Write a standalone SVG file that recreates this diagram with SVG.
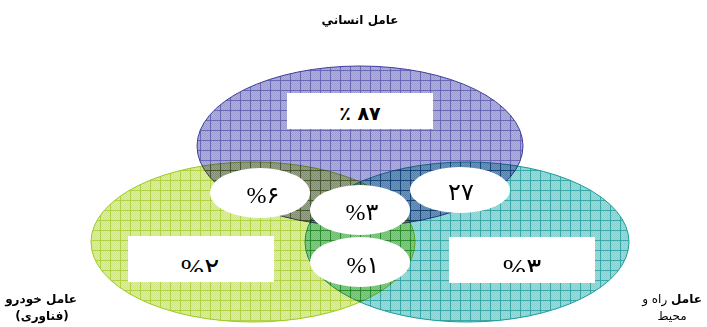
<svg xmlns="http://www.w3.org/2000/svg" width="707" height="327" viewBox="0 0 707 327">
<style>
.set{mix-blend-mode:multiply;stroke-width:1}
.box{fill:#ffffff;stroke:none}
.num{font-family:"Liberation Serif","DejaVu Sans",serif;font-size:24px;fill:#000;text-anchor:middle;direction:ltr}
.big{font-size:28px}
.lbl{font-family:"DejaVu Sans","Noto Sans",sans-serif;font-size:12px;fill:#000;text-anchor:middle;direction:rtl}
.b{font-weight:bold}
</style>
<defs>
<pattern id="ckP" width="2" height="2" patternUnits="userSpaceOnUse"><rect width="2" height="2" fill="#b0b0de"/><path d="M0 0h1v1h-1zM1 1h1v1h-1z" fill="#9d9dd0"/></pattern>
<pattern id="ckG" width="2" height="2" patternUnits="userSpaceOnUse"><rect width="2" height="2" fill="#dfee9f"/><path d="M0 0h1v1h-1zM1 1h1v1h-1z" fill="#d0e48a"/></pattern>
<pattern id="ckT" width="2" height="2" patternUnits="userSpaceOnUse"><rect width="2" height="2" fill="#9edada"/><path d="M0 0h1v1h-1zM1 1h1v1h-1z" fill="#88d0d0"/></pattern>
<pattern id="pP" width="10" height="10" patternUnits="userSpaceOnUse"><rect width="10" height="10" fill="url(#ckP)"/><path d="M0 0.5H10M0.5 0V10" stroke="#6868b6" stroke-width="1"/></pattern>
<pattern id="pG" width="10" height="10" patternUnits="userSpaceOnUse"><rect width="10" height="10" fill="url(#ckG)"/><path d="M0 0.5H10M0.5 0V10" stroke="#b2d444" stroke-width="1"/></pattern>
<pattern id="pT" width="10" height="10" patternUnits="userSpaceOnUse"><rect width="10" height="10" fill="url(#ckT)"/><path d="M0 0.5H10M0.5 0V10" stroke="#3aa8a8" stroke-width="1"/></pattern>
<clipPath id="cL"><rect x="128" y="236" width="146" height="36"/></clipPath>
<clipPath id="cR"><rect x="449" y="237" width="146" height="35"/></clipPath>
</defs>

<g id="sets">
<ellipse id="set-human" class="set" cx="360" cy="146" rx="163" ry="80" fill="url(#pP)" stroke="#3c3c9c"/>
<ellipse id="set-vehicle" class="set" cx="253" cy="242" rx="162" ry="80" fill="url(#pG)" stroke="#9cc81e"/>
<ellipse id="set-road" class="set" cx="467" cy="242" rx="162" ry="80" fill="url(#pT)" stroke="#1a9a9a"/>
</g>

<g id="connectors"></g>

<g id="node-human-only">
<rect class="box" x="287" y="93" width="146" height="36"/>
<text class="num b" x="360" y="120" style="font-family:'DejaVu Sans',sans-serif;font-size:19px;letter-spacing:2px">٪ ۸۷</text>
</g>
<g id="node-vehicle-only">
<rect class="box" x="128" y="236" width="146" height="46"/>
<text class="num big" x="200" y="278" clip-path="url(#cL)">%۲</text>
</g>
<g id="node-road-only">
<rect class="box" x="449" y="237" width="146" height="46"/>
<text class="num big" x="522" y="278" clip-path="url(#cR)">%۳</text>
</g>
<g id="node-human-vehicle">
<ellipse class="box" cx="260" cy="193" rx="50" ry="25"/>
<text class="num" x="263" y="203">%۶</text>
</g>
<g id="node-all">
<ellipse class="box" cx="360" cy="210" rx="50" ry="25"/>
<text class="num" x="362" y="220">%۳</text>
</g>
<g id="node-vehicle-road">
<ellipse class="box" cx="360" cy="262" rx="50" ry="25"/>
<text class="num" x="363" y="273">%۱</text>
</g>
<g id="node-human-road">
<ellipse class="box" cx="460" cy="190" rx="50" ry="23"/>
<text class="num" x="461" y="200">۲۷</text>
</g>

<g id="label-human">
<text class="lbl b" x="360" y="24">عامل انساني</text>
</g>
<g id="label-vehicle">
<text class="lbl b" x="41" y="303">عامل خودرو</text>
<text class="lbl b" x="42" y="320">(فناوری)</text>
</g>
<g id="label-road">
<text class="lbl" x="672" y="303"><tspan class="b">عامل</tspan> راه و</text>
<text class="lbl" x="672" y="320">محیط</text>
</g>
</svg>
